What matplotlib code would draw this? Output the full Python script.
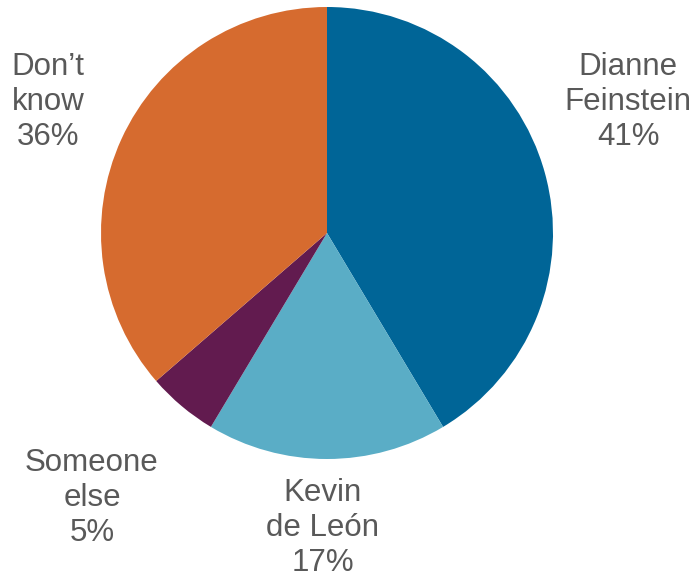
import matplotlib
matplotlib.use("Agg")
import matplotlib.pyplot as plt

# survey shares (they add to 99, pie normalises)
names = ["Dianne\nFeinstein", "Kevin\nde León", "Someone\nelse", "Don’t\nknow"]
shares = [41, 17, 5, 36]
colors = ["#006597", "#5aadc6", "#621b4f", "#d66b2f"]

# label centres in axes data units (radius = 1)
label_xy = [(1.332, 0.58), (-0.018, -1.305), (-1.04, -1.173), (-1.235, 0.58)]

plt.rcParams["font.family"] = ["Liberation Sans", "DejaVu Sans"]

fig = plt.figure(figsize=(6.95, 5.8), dpi=100)
cx, cy, r = 327, 233, 226
ax = fig.add_axes([(cx - r) / 695, (580 - cy - r) / 580, 2 * r / 695, 2 * r / 580])

ax.pie(shares, colors=colors, startangle=90, counterclock=False, radius=1,
       wedgeprops=dict(linewidth=0))
ax.set_xlim(-1, 1)
ax.set_ylim(-1, 1)
ax.set_aspect("equal")
ax.axis("off")

for name, val, (x, y) in zip(names, shares, label_xy):
    ax.text(x, y, f"{name}\n{val}%", ha="center", va="center", fontsize=22.5,
            linespacing=1.23, color="#595959", multialignment="center",
            clip_on=False)

fig.savefig("out.png", dpi=100)
